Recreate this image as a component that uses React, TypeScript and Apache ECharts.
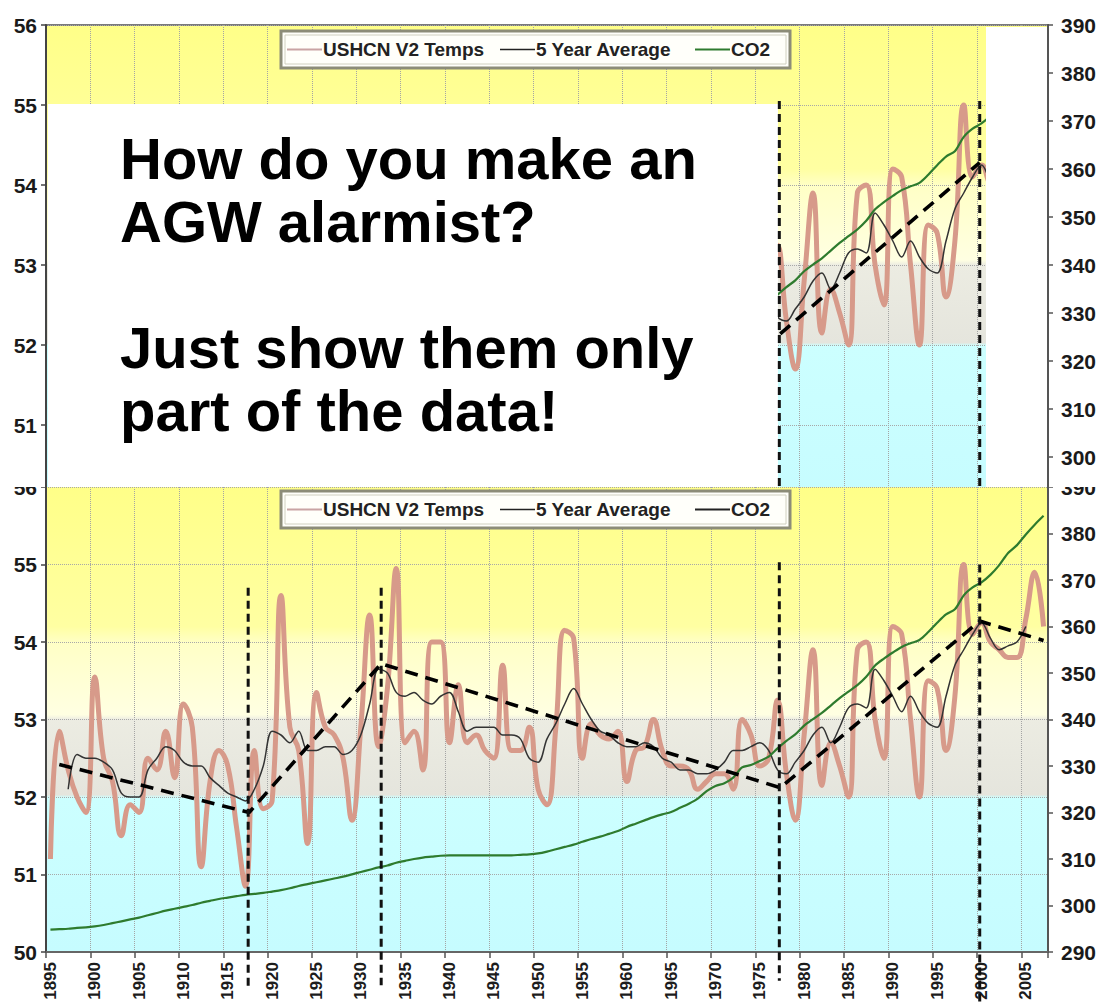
import React, { useEffect, useRef } from "react";
import * as echarts from "echarts";

// ---------------- data ----------------
const startYear = 1895;
// USHCN V2 annual mean temperature (deg F), 1895 - 2007
const temps = [
  51.2, 52.85, 52.35, 52.0, 51.8, 53.55, 52.5, 52.2, 51.5, 51.9,
  51.8, 52.5, 52.35, 52.85, 52.25, 53.2, 52.9, 51.1, 52.2, 52.6,
  52.4, 51.6, 50.85, 52.6, 51.85, 51.95, 54.6, 52.9, 52.6, 51.4,
  53.35, 52.9, 52.8, 52.5, 51.7, 52.9, 54.35, 52.65, 53.4, 54.95,
  52.7, 52.85, 52.35, 54.0, 54.0, 52.7, 53.45, 52.7, 52.8, 52.6,
  52.5, 53.7, 52.6, 52.6, 52.9, 52.1, 51.9, 52.9, 54.15, 54.05,
  52.5, 52.95, 52.8, 52.75, 52.85, 52.2, 52.6, 52.65, 53.0, 52.6,
  52.4, 52.4, 52.35, 52.1, 52.2, 52.3, 52.3, 52.1, 53.0, 52.8,
  52.4, 52.5, 53.25, 52.3, 51.7, 52.8, 53.9, 52.15, 52.7, 52.4,
  52.0, 53.9, 54.0, 53.0, 52.5, 54.2, 54.1, 53.0, 52.0, 53.5,
  53.4, 52.6, 53.3, 55.0, 54.1, 54.25, 54.0, 53.9, 53.8, 53.8,
  54.3, 54.9, 54.2,
];
// 5 year average, 1897 - 2005
const avgStartYear = 1897;
const avg5 = [
  52.1, 52.55, 52.5, 52.5, 52.45, 52.35, 52.05, 52.0, 52.0, 52.35,
  52.5, 52.65, 52.6, 52.45, 52.4, 52.4, 52.25, 52.15, 52.05, 52.0,
  51.95, 52.1, 52.4, 52.85, 52.8, 52.7, 52.85, 52.6, 52.6, 52.65,
  52.65, 52.55, 52.6, 52.8, 53.2, 53.65, 53.6, 53.35, 53.3, 53.35,
  53.25, 53.2, 53.3, 53.35, 53.1, 52.85, 52.9, 52.9, 52.9, 52.8,
  52.8, 52.75, 52.5, 52.45, 52.75, 52.95, 53.2, 53.4, 53.2, 53.0,
  52.85, 52.8, 52.7, 52.65, 52.65, 52.7, 52.65, 52.5, 52.45, 52.35,
  52.35, 52.3, 52.3, 52.35, 52.45, 52.6, 52.6, 52.65, 52.7, 52.6,
  52.35, 52.3, 52.45, 52.6, 52.8, 52.9, 52.7, 52.9, 53.15, 53.2,
  53.15, 53.65, 53.5, 53.3, 53.1, 53.3, 53.1, 52.95, 52.9, 53.3,
  53.7, 53.9, 54.1, 54.25, 54.05, 53.9, 53.95, 54.0, 54.2,
];
// CO2 (ppm), 1895 - 2007
const co2 = [
  294.8, 294.9, 295.0, 295.2, 295.3, 295.5, 295.8, 296.2, 296.6, 297.0,
  297.4, 297.9, 298.4, 298.9, 299.3, 299.7, 300.1, 300.6, 301.0, 301.4,
  301.7, 302.0, 302.3, 302.5, 302.7, 303.0, 303.3, 303.7, 304.2, 304.6,
  305.0, 305.4, 305.8, 306.2, 306.7, 307.2, 307.7, 308.2, 308.6, 309.2,
  309.6, 310.0, 310.3, 310.5, 310.7, 310.8, 310.8, 310.8, 310.8, 310.8,
  310.8, 310.8, 310.8, 310.9, 311.0, 311.2, 311.6, 312.1, 312.6, 313.1,
  313.7, 314.3, 314.8, 315.4, 316.0, 316.9, 317.6, 318.3, 319.0, 319.6,
  320.1, 321.0, 321.9, 323.0, 324.6, 325.7, 326.3, 327.5, 329.7, 330.2,
  331.1, 332.0, 333.8, 335.4, 336.8, 338.7, 340.1, 341.4, 343.0, 344.6,
  346.0, 347.4, 349.2, 351.6, 353.1, 354.4, 355.6, 356.4, 357.1, 358.8,
  360.8, 362.6, 363.7, 366.7, 368.4, 369.5, 371.1, 373.2, 375.8, 377.5,
  379.8, 381.9, 383.8,
];
// hand-drawn dashed trend lines (year, temp)
const trendYears = [1896, 1917.4, 1932.3, 1977.3, 1999.8, 2007];
const trendTemps = [52.42, 51.8, 53.72, 52.12, 54.27, 54.02];
const topTrendYears = [1977.3, 1999.8];
const topTrendTemps = [52.14, 54.28];
// vertical dashed break markers (year, top temp, bottom temp)
const markerYears = [1917.3, 1932.3, 1977.2, 1999.8];
const markerTops = [54.7, 54.7, 55.03, 55.0];
const markerBottoms = [49.55, 49.57, 49.63, 49.35];
const topMarkerYears = [1977.2, 1999.8];
const topMarkerTops = [55.05, 55.05];
const topMarkerBottoms = [50, 50];
// axes
const tempMin = 50, tempMax = 56, tempStep = 1;
const co2Min = 290, co2Max = 390, co2Step = 10;
const labelEvery = 5;
const seriesNames = ["USHCN V2 Temps", "5 Year Average", "CO2"];
const headline = [
  "How do you make an",
  "AGW alarmist?",
  "",
  "Just show them only",
  "part of the data!",
];

// ---------------- styling ----------------
const FONT = "'Liberation Sans', Arial, Helvetica, sans-serif";
const C_TEMP = "#D79A8A";
const C_AVG = "#333333";
const C_CO2 = "#2E7B2E";
const years = temps.map((_, i) => String(startYear + i));
const everyFive = (_i: number, v: string) => Number(v) % labelEvery === 0;

function bandFill() {
  return new echarts.graphic.LinearGradient(0, 0, 0, 1, [
    { offset: 0, color: "#FFFF88" },
    { offset: 0.3, color: "#FFFFA2" },
    { offset: 0.335, color: "#FFFFC6" },
    { offset: 0.49, color: "#FFFFE2" },
    { offset: 0.5, color: "#ECECE2" },
    { offset: 0.662, color: "#E5E5DD" },
    { offset: 0.668, color: "#CCFFFF" },
    { offset: 1, color: "#C6FCFF" },
  ]);
}

function buildOption(isTop: boolean) {
  const grid = isTop
    ? { left: 46, top: 25, width: 1002, height: 480, show: true, backgroundColor: bandFill(), borderColor: "#7a7a7a", borderWidth: 2, containLabel: false, outerBoundsMode: "none" }
    : { left: 46, top: 0, width: 1002, height: 465, show: true, backgroundColor: bandFill(), borderWidth: 0, containLabel: false, outerBoundsMode: "none" };
  const tYears = isTop ? topTrendYears : trendYears;
  const tTemps = isTop ? topTrendTemps : trendTemps;
  return {
    animation: false,
    grid,
    xAxis: [
      {
        type: "category",
        data: years,
        boundaryGap: true,
        axisLine: { show: true, lineStyle: { color: "#666", width: 2 } },
        axisTick: { show: true, interval: everyFive, length: 6, lineStyle: { color: "#555", width: 1.5 } },
        axisLabel: {
          show: !isTop,
          interval: everyFive,
          rotate: 90,
          fontSize: 17,
          fontWeight: "bold",
          fontFamily: FONT,
          color: "#1c1c1c",
          margin: 10,
        },
        splitLine: { show: true, interval: everyFive, lineStyle: { type: "dotted", color: "#a4a4a4", width: 1 } },
      },
      {
        type: "value",
        min: startYear - 0.5,
        max: startYear + temps.length - 0.5,
        show: false,
      },
    ],
    yAxis: [
      {
        type: "value",
        min: tempMin,
        max: tempMax,
        interval: tempStep,
        position: "left",
        axisLine: { show: true, lineStyle: { color: "#444", width: 2 } },
        axisTick: { show: true, length: 5, lineStyle: { color: "#444", width: 1.5 } },
        axisLabel: { showMinLabel: !isTop, fontSize: 21, fontWeight: "bold", fontFamily: FONT, color: "#1a1a1a", margin: 9 },
        splitLine: { show: true, lineStyle: { type: "dotted", color: "#a8a8a8", width: 1 } },
      },
      {
        type: "value",
        min: co2Min,
        max: co2Max,
        interval: co2Step,
        position: "right",
        axisLine: { show: true, lineStyle: { color: "#555", width: 2 } },
        axisTick: { show: true, length: 5, lineStyle: { color: "#555", width: 1.5 } },
        axisLabel: { showMinLabel: !isTop, fontSize: 21, fontWeight: "bold", fontFamily: FONT, color: "#1a1a1a", margin: 13 },
        splitLine: { show: false },
      },
    ],
    series: [
      {
        name: seriesNames[0],
        type: "line",
        xAxisIndex: 0,
        yAxisIndex: 0,
        data: temps,
        smooth: 0.45,
        symbol: "none",
        lineStyle: { color: C_TEMP, width: 5 },
        z: 2,
      },
      {
        name: seriesNames[1],
        type: "line",
        xAxisIndex: 0,
        yAxisIndex: 0,
        data: avg5.map((v, i) => [String(avgStartYear + i), v]),
        smooth: 0.35,
        symbol: "none",
        lineStyle: { color: C_AVG, width: 1.5 },
        z: 3,
      },
      {
        name: seriesNames[2],
        type: "line",
        xAxisIndex: 0,
        yAxisIndex: 1,
        data: co2,
        smooth: 0.3,
        symbol: "none",
        lineStyle: { color: C_CO2, width: 2.2 },
        z: 4,
      },
      {
        name: "trend",
        type: "line",
        xAxisIndex: 1,
        yAxisIndex: 0,
        data: tYears.map((y, i) => [y, tTemps[i]]),
        symbol: "none",
        lineStyle: { color: "#000", width: 3.6, type: [13, 8] },
        z: 6,
      },
    ],
  };
}

function legendGraphic(y0: number, co2LegendColor: string) {
  const mid = y0 + 18.5;
  const txt = (x: number, text: string) => ({
    type: "text",
    x,
    y: mid,
    z: 72,
    style: { text, fontSize: 19, fontWeight: "bold", fontFamily: FONT, fill: "#222", verticalAlign: "middle", align: "left" },
  });
  return [
    { type: "rect", z: 70, shape: { x: 281, y: y0, width: 509, height: 37 }, style: { fill: "#FFFFFA", stroke: "#8C8C78", lineWidth: 3 } },
    { type: "rect", z: 71, shape: { x: 285, y: y0 + 4, width: 501, height: 29 }, style: { fill: "none", stroke: "#d0d0c0", lineWidth: 1 } },
    { type: "line", z: 72, shape: { x1: 287, y1: mid, x2: 322, y2: mid }, style: { stroke: "#C9A4A4", lineWidth: 2 } },
    txt(323, seriesNames[0]),
    { type: "line", z: 72, shape: { x1: 500, y1: mid, x2: 535, y2: mid }, style: { stroke: "#222", lineWidth: 1.6 } },
    txt(536, seriesNames[1]),
    { type: "line", z: 72, shape: { x1: 695, y1: mid, x2: 730, y2: mid }, style: { stroke: co2LegendColor, lineWidth: 2 } },
    txt(731, seriesNames[2]),
  ];
}

function markerGraphic(chart: any, ys: number[], tops: number[], bottoms: number[]) {
  return ys.map((yr, i) => {
    const p1 = chart.convertToPixel({ xAxisIndex: 1, yAxisIndex: 0 }, [yr, tops[i]]);
    const p2 = chart.convertToPixel({ xAxisIndex: 1, yAxisIndex: 0 }, [yr, bottoms[i]]);
    return {
      type: "line",
      z: 65,
      shape: { x1: p1[0], y1: p1[1], x2: p2[0], y2: p2[1] },
      style: { stroke: "#111", lineWidth: 3, lineDash: [8, 5] },
    };
  });
}

export default function App() {
  const topRef = useRef<HTMLDivElement>(null);
  const botRef = useRef<HTMLDivElement>(null);

  useEffect(() => {
    const c1 = echarts.init(topRef.current as HTMLDivElement, undefined, { renderer: "svg" });
    const c2 = echarts.init(botRef.current as HTMLDivElement, undefined, { renderer: "svg" });
    c1.setOption(buildOption(true) as any);
    c2.setOption(buildOption(false) as any);

    const topGraphics = [
      { type: "rect", z: 50, shape: { x: 48, y: 104, width: 730, height: 400 }, style: { fill: "#ffffff" } },
      { type: "rect", z: 50, shape: { x: 986, y: 27, width: 61, height: 480 }, style: { fill: "#ffffff" } },
      {
        type: "text",
        z: 60,
        x: 120,
        y: 127,
        style: {
          text: headline.join("\n"),
          fontSize: 58,
          fontWeight: "bold",
          fontFamily: FONT,
          fill: "#000",
          lineHeight: 63,
        },
      },
      ...legendGraphic(31, C_CO2),
      ...markerGraphic(c1, topMarkerYears, topMarkerTops, topMarkerBottoms),
    ];
    c1.setOption({ graphic: topGraphics } as any);

    const bottomGraphics = [
      ...legendGraphic(4, "#222"),
      ...markerGraphic(c2, markerYears, markerTops, markerBottoms),
    ];
    c2.setOption({ graphic: bottomGraphics } as any);

    return () => {
      c1.dispose();
      c2.dispose();
    };
  }, []);

  return (
    <div style={{ position: "absolute", left: 0, top: 0, width: 1101, height: 1007, background: "#fff", overflow: "hidden" }}>
      <div ref={topRef} style={{ position: "absolute", left: 0, top: 0, width: 1101, height: 487, overflow: "hidden" }} />
      <div ref={botRef} style={{ position: "absolute", left: 0, top: 487, width: 1101, height: 520, overflow: "hidden" }} />
    </div>
  );
}
